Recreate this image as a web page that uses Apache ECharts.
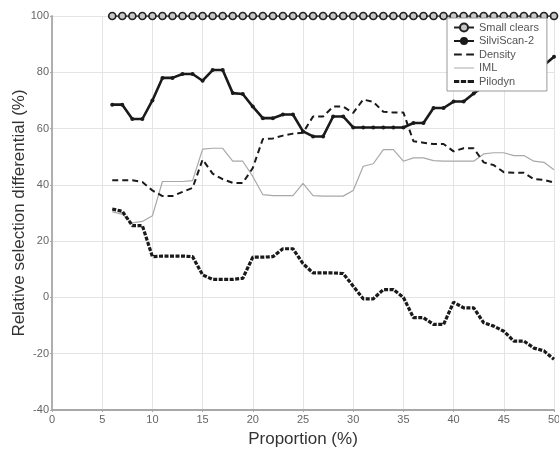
<!DOCTYPE html>
<html>
<head>
<meta charset="utf-8">
<script src="https://cdn.jsdelivr.net/npm/echarts@6/dist/echarts.min.js"></script>
<style>
html,body{margin:0;padding:0;background:#fff;}
#chart{width:559px;height:455px;}
</style>
</head>
<body>
<div id="chart"></div>
<script>
// Proportion (%)
var proportion = [6,7,8,9,10,11,12,13,14,15,16,17,18,19,20,21,22,23,24,25,26,27,28,29,30,31,32,33,34,35,36,37,38,39,40,41,42,43,44,45,46,47,48,49,50];

var smallClears = [100,100,100,100,100,100,100,100,100,100,100,100,100,100,100,100,100,100,100,100,100,100,100,100,100,100,100,100,100,100,100,100,100,100,100,100,100,100,100,100,100,100,100,100,100];

var silviScan2 = [68.5,68.5,63.4,63.4,70,78,78,79.4,79.4,77,80.8,80.8,72.6,72.3,67.8,63.7,63.7,65,65,59,57.2,57.2,64.3,64.3,60.4,60.4,60.4,60.4,60.4,60.4,62,62,67.3,67.3,69.6,69.6,72.5,75,77,78,79,80,81,82.5,85.5];

var density = [41.6,41.6,41.6,41,38,36,36,37.5,38.9,49,44,42,40.7,40.7,46,56.3,56.5,57.5,58.2,58.5,64.3,64.3,67.8,67.8,65.6,70.3,69.5,66,65.7,65.7,55.5,55,54.5,54.5,51.9,53,53,48,47,44.5,44.3,44.3,42,41.8,40.8];

var iml = [30.5,29.5,26.5,27,29,41.2,41.2,41.2,41.5,52.7,53,53,48.4,48.4,43,36.5,36.2,36.2,36.2,40.5,36.2,36,36,36,38,46.6,47.5,52.5,52.5,48.4,49.6,49.6,48.6,48.4,48.4,48.4,48.4,51,51.4,51.4,50.4,50.4,48.4,48,45.4];

var pilodyn = [31.4,30.6,25.5,25.5,14.5,14.7,14.7,14.7,14.5,8,6.4,6.4,6.4,6.8,14.3,14.3,14.5,17.3,17.3,12,8.7,8.7,8.7,8.5,4,-0.5,-0.5,2.8,2.8,0,-7.2,-7.2,-9.6,-9.6,-1.7,-3.7,-3.7,-9,-10.2,-12,-15.5,-15.5,-18,-19,-22];

var seriesNames = ['Small clears','SilviScan-2','Density','IML','Pilodyn'];
var xTicks = {min:0, max:50, interval:5};
var yTicks = {min:-40, max:100, interval:20};

function pairs(vals){ return proportion.map(function(x,i){ return [x, vals[i]]; }); }

var FONT = 'Liberation Sans, Arial, sans-serif';
var chart = echarts.init(document.getElementById('chart'), null, {renderer:'canvas'});
var axisCommon = {
  nameMoveOverlap:false,
  axisLine:{show:true, onZero:false, lineStyle:{color:'#a8a8a8', width:1.8}},
  axisTick:{show:true, inside:false, length:2, lineStyle:{color:'#a8a8a8'}},
  splitLine:{show:true, lineStyle:{color:'#e4e4e4', width:1}},
  axisLabel:{color:'#666', fontSize:11, fontFamily:FONT},
  nameTextStyle:{color:'#333', fontSize:17, fontFamily:FONT}
};
chart.setOption({
  animation:false,
  backgroundColor:'#fff',
  grid:{left:52, right:5, top:16, bottom:45, containLabel:false, outerBoundsMode:'none'},
  xAxis: Object.assign({}, axisCommon, {
    type:'value', min:xTicks.min, max:xTicks.max, interval:xTicks.interval,
    name:'Proportion (%)', nameLocation:'middle', nameGap:21,
    axisLabel:Object.assign({}, axisCommon.axisLabel, {margin:4, showMaxLabel:true})
  }),
  yAxis: Object.assign({}, axisCommon, {
    type:'value', min:yTicks.min, max:yTicks.max, interval:yTicks.interval,
    name:'Relative selection differential (%)', nameLocation:'middle', nameGap:24,
    axisLabel:Object.assign({}, axisCommon.axisLabel, {margin:3})
  }),
  legend:{
    orient:'vertical', left:447, top:18, z:10,
    padding:[4,8,4,6],
    itemGap:2.5, itemWidth:20, itemHeight:10,
    symbolKeepAspect:true,
    backgroundColor:'#fff', borderColor:'#999', borderWidth:1,
    textStyle:{color:'#555', fontSize:11, fontFamily:FONT},
    data:[
      {name:seriesNames[0]},
      {name:seriesNames[1]},
      {name:seriesNames[2], icon:'path://M0,0h7v2h-7z M11,0h7v2h-7z'},
      {name:seriesNames[3], icon:'path://M0,0h19v1h-19z'},
      {name:seriesNames[4], icon:'path://M0,0h5v3h-5z M6.5,0h5v3h-5z M13,0h6v3h-6z'}
    ]
  },
  series:[
    {name:seriesNames[0], type:'line', data:pairs(smallClears), z:3,
     symbol:'circle', symbolSize:7, showSymbol:true,
     lineStyle:{color:'#222', width:1.5},
     itemStyle:{color:'#c8c8c8', borderColor:'#222', borderWidth:1.7}},
    {name:seriesNames[1], type:'line', data:pairs(silviScan2), z:3,
     symbol:'circle', symbolSize:4, showSymbol:true,
     lineStyle:{color:'#1a1a1a', width:2.6},
     itemStyle:{color:'#1a1a1a'}},
    {name:seriesNames[2], type:'line', data:pairs(density), z:2,
     symbol:'none',
     lineStyle:{color:'#1a1a1a', width:2, type:[6,4]},
     itemStyle:{color:'#1a1a1a'}},
    {name:seriesNames[3], type:'line', data:pairs(iml), z:1,
     symbol:'none',
     lineStyle:{color:'#a8a8a8', width:1.2},
     itemStyle:{color:'#b0b0b0'}},
    {name:seriesNames[4], type:'line', data:pairs(pilodyn), z:2,
     symbol:'none',
     lineStyle:{color:'#1a1a1a', width:3.2, type:[4,1.5]},
     itemStyle:{color:'#1a1a1a'}}
  ]
});
</script>
</body>
</html>
